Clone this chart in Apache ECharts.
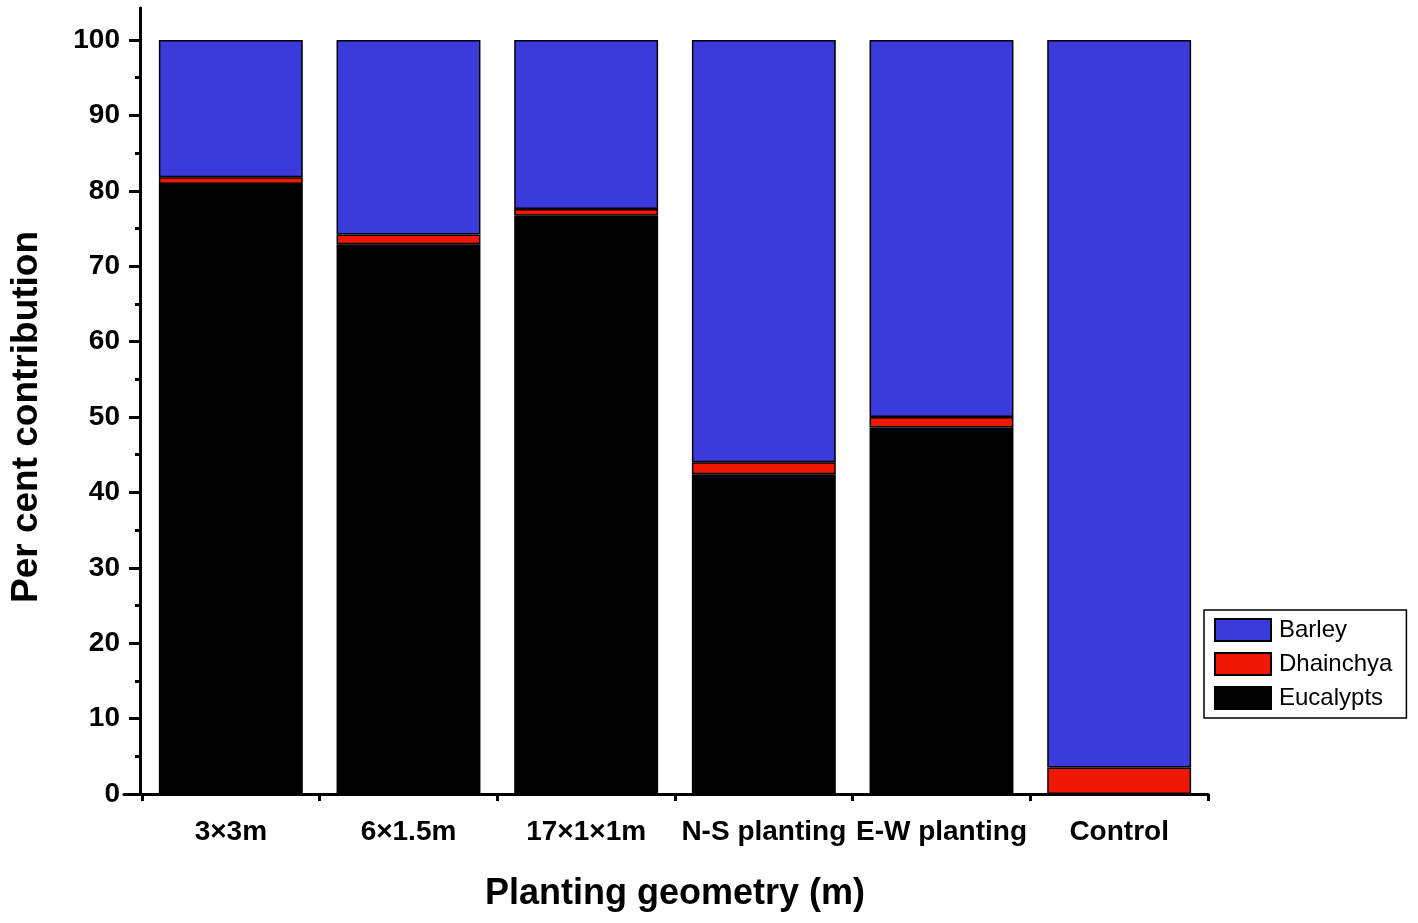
<!DOCTYPE html>
<html>
<head>
<meta charset="utf-8">
<script src="https://cdn.jsdelivr.net/npm/echarts@6/dist/echarts.min.js"></script>
<style>html,body{margin:0;padding:0;background:#fff}#c{width:1418px;height:923px}</style>
</head>
<body>
<div id="c"></div>
<script>
const categories = ['3×3m', '6×1.5m', '17×1×1m', 'N-S planting', 'E-W planting', 'Control'];
const eucalypts = [80.9, 72.9, 76.7, 42.4, 48.6, 0];
const dhainchya = [0.9, 1.3, 0.9, 1.6, 1.4, 3.5];
const barley = [18.2, 25.8, 22.4, 56.0, 50.0, 96.5];
const yTicks = [0, 10, 20, 30, 40, 50, 60, 70, 80, 90, 100];

const FONT = '"Liberation Sans", Arial, sans-serif';
const chart = echarts.init(document.getElementById('c'));
const border = {borderColor: '#000', borderWidth: 1.5};
chart.setOption({
  animation: false,
  backgroundColor: '#fff',
  grid: [
    {left: 140, right: 210, top: 40, bottom: 129},
    {left: 124, right: 210, top: 8, bottom: 129}
  ],
  legend: {
    orient: 'vertical', left: 1204, top: 610,
    data: ['Barley', 'Dhainchya', 'Eucalypts'],
    itemWidth: 56, itemHeight: 22, itemGap: 10,
    padding: [8, 14, 8, 10],
    borderColor: '#000', borderWidth: 1.5, borderRadius: 0,
    textStyle: {fontFamily: FONT, fontSize: 24, color: '#000', padding: [0, 0, 0, 3]},
    icon: 'rect'
  },
  xAxis: [
    {
      type: 'category', data: categories, gridIndex: 0,
      name: 'Planting geometry (m)', nameLocation: 'middle', nameGap: 82,
      nameTextStyle: {fontFamily: FONT, fontSize: 36, fontWeight: 'bold', color: '#000'},
      axisLine: {show: false},
      axisTick: {alignWithLabel: true, length: 13, lineStyle: {color: '#000', width: 3}},
      axisLabel: {fontFamily: FONT, fontSize: 28, fontWeight: 'bold', color: '#000', margin: 24, interval: 0}
    },
    {
      type: 'category', data: categories, gridIndex: 0, position: 'bottom',
      axisLine: {show: false},
      axisTick: {show: true, length: 7, lineStyle: {color: '#000', width: 3}},
      axisLabel: {show: false}
    },
    {
      type: 'value', gridIndex: 1, min: 0, max: 1,
      axisLine: {show: true, lineStyle: {color: '#000', width: 3}},
      axisTick: {show: false}, axisLabel: {show: false}, splitLine: {show: false}
    }
  ],
  yAxis: [
    {
      type: 'value', gridIndex: 0, min: 0, max: 100, interval: 10,
      name: 'Per cent contribution', nameLocation: 'middle', nameGap: 97,
      nameTextStyle: {fontFamily: FONT, fontSize: 37, fontWeight: 'bold', color: '#000'},
      axisLine: {show: false},
      axisTick: {show: true, length: 13, lineStyle: {color: '#000', width: 3}},
      minorTick: {show: true, splitNumber: 2, length: 7, lineStyle: {color: '#000', width: 3}},
      axisLabel: {fontFamily: FONT, fontSize: 28, fontWeight: 'bold', color: '#000', margin: 22,
        formatter: v => yTicks.includes(v) ? String(v) : ''},
      splitLine: {show: false}
    },
    {
      type: 'value', gridIndex: 1, min: 0, max: 1, offset: -16,
      axisLine: {show: true, lineStyle: {color: '#000', width: 3}},
      axisTick: {show: false}, axisLabel: {show: false}, splitLine: {show: false}
    }
  ],
  series: [
    {name: 'Eucalypts', type: 'bar', stack: 's', data: eucalypts, barCategoryGap: '19%',
      itemStyle: Object.assign({color: '#000000'}, border)},
    {name: 'Dhainchya', type: 'bar', stack: 's', data: dhainchya,
      itemStyle: Object.assign({color: '#f01805'}, border)},
    {name: 'Barley', type: 'bar', stack: 's', data: barley,
      itemStyle: Object.assign({color: '#3b3bdc'}, border)}
  ]
});
</script>
</body>
</html>
